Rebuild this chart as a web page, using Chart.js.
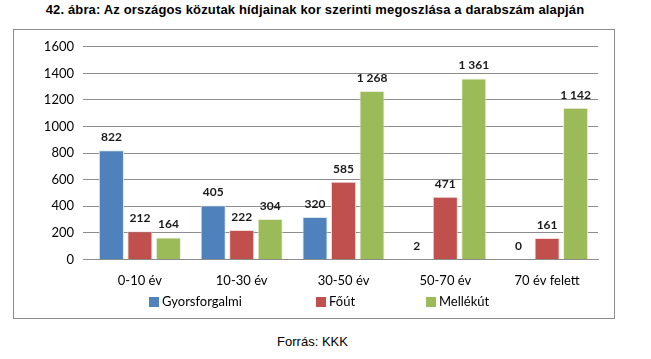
<!DOCTYPE html>
<html lang="hu">
<head>
    <meta charset="UTF-8">
    <title>Hidak kor szerint</title>
    <script src="https://cdn.jsdelivr.net/npm/chart.js"></script>
    <style>
        body { margin: 0; background: #fff; width: 651px; height: 359px; position: relative; font-family: "Liberation Sans", Arial, sans-serif; }
        h1 { position: absolute; top: 2px; left: 0; width: 630px; margin: 0; text-align: center; font-size: 13px; font-weight: bold; letter-spacing: 0.15px; }
        #box { position: absolute; left: 13px; top: 29px; width: 600px; height: 288px; border: 1px solid #8c8c8c; }
        #src { position: absolute; top: 334px; left: 0; width: 625px; text-align: center; font-size: 13px; }
    </style>
</head>
<body>
    <h1>42. ábra: Az országos közutak hídjainak kor szerinti megoszlása a darabszám alapján</h1>
    <div id="box"><canvas id="myChart" width="600" height="288"></canvas></div>
    <div id="src">Forrás: KKK</div>
    <script>
        const categories = ["0-10 év", "10-30 év", "30-50 év", "50-70 év", "70 év felett"];
        const gyorsforgalmi = [822, 405, 320, 2, 0];
        const fout = [212, 222, 585, 471, 161];
        const mellekut = [164, 304, 1268, 1361, 1142];
        const yTicks = [0, 200, 400, 600, 800, 1000, 1200, 1400, 1600];

        const FONT = "Lato, 'Open Sans', sans-serif";

        function fmt(v) {
            return String(v).replace(/\B(?=(\d{3})+(?!\d))/g, " ");
        }

        // value labels above bars
        const valueLabels = {
            id: "valueLabels",
            afterDatasetsDraw(chart) {
                const ctx = chart.ctx;
                ctx.save();
                ctx.font = "bold 12px " + FONT;
                ctx.fillStyle = "#1a1a1a";
                ctx.textAlign = "center";
                ctx.textBaseline = "bottom";
                chart.data.datasets.forEach((ds, i) => {
                    chart.getDatasetMeta(i).data.forEach((bar, j) => {
                        ctx.fillText(fmt(ds.data[j]), bar.x, bar.y - 7);
                    });
                });
                ctx.restore();
            }
        };

        // legend drawn by hand to get the wide spacing
        const customLegend = {
            id: "customLegend",
            afterDraw(chart) {
                const ctx = chart.ctx;
                const xs = [135, 302, 412];
                const y = 272;
                ctx.save();
                ctx.font = "13px " + FONT;
                ctx.textBaseline = "middle";
                ctx.textAlign = "left";
                chart.data.datasets.forEach((ds, i) => {
                    ctx.fillStyle = ds.backgroundColor;
                    ctx.fillRect(xs[i], y - 5, 10, 10);
                    ctx.fillStyle = "#000";
                    ctx.fillText(ds.label, xs[i] + 13, y);
                });
                ctx.restore();
            }
        };

        const ctx = document.getElementById("myChart").getContext("2d");
        window.myChart = new Chart(ctx, {
            type: "bar",
            data: {
                labels: categories,
                datasets: [
                    { label: "Gyorsforgalmi", data: gyorsforgalmi, backgroundColor: "#4f81bd", borderColor: "#dce6f2", borderWidth: 1 },
                    { label: "Főút", data: fout, backgroundColor: "#c0504d", borderColor: "#f2dcdb", borderWidth: 1 },
                    { label: "Mellékút", data: mellekut, backgroundColor: "#9bbb59", borderColor: "#ebf1de", borderWidth: 1 }
                ]
            },
            options: {
                responsive: false,
                animation: false,
                layout: { padding: { left: 0, right: 16, top: 10, bottom: 23 } },
                datasets: { bar: { categoryPercentage: 0.84, barPercentage: 0.88 } },
                plugins: {
                    legend: { display: false },
                    tooltip: { enabled: false }
                },
                scales: {
                    y: {
                        min: 0,
                        max: 1600,
                        afterBuildTicks(axis) { axis.ticks = yTicks.map(v => ({ value: v })); },
                        afterFit(axis) { axis.width = 75; },
                        border: { display: false },
                        grid: { color: "#8c8c8c", drawTicks: true, tickLength: 6, tickColor: "#8c8c8c" },
                        ticks: { color: "#000", font: { size: 13, family: FONT }, padding: 9, callback: v => String(v) }
                    },
                    x: {
                        border: { color: "#8c8c8c" },
                        grid: { display: false },
                        ticks: { color: "#000", font: { size: 13, family: FONT }, padding: 6 }
                    }
                }
            },
            plugins: [valueLabels, customLegend]
        });
    </script>
</body>
</html>
